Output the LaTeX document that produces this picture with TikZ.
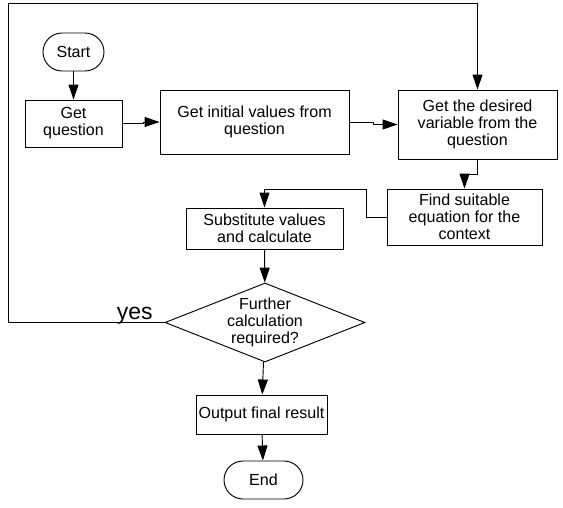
\documentclass[tikz,border=0pt]{standalone}
\usepackage{fontspec}
\setmainfont{Liberation Sans}
\usetikzlibrary{shapes.geometric, arrows.meta, positioning}
\tikzstyle{startstop} = [rectangle, rounded corners=0.57cm, minimum height=1.14cm, inner sep=0pt, text centered, draw=black, line width=0.8pt]
\tikzstyle{process} = [rectangle, inner sep=0pt, align=center, draw=black, line width=0.8pt]
\tikzstyle{decision} = [diamond, aspect=2.53, inner sep=0pt, minimum width=6cm, minimum height=2.37cm, align=center, draw=black, line width=0.8pt]
\tikzstyle{arrow} = [line width=0.8pt, -{Triangle[length=0.45cm,width=0.3cm]}]

\begin{document}
\begin{tikzpicture}[font=\fontsize{13.7}{14.5}\selectfont]
\useasboundingbox (-2.205,1.56) rectangle (14.685,-13.65);
\node (start) [startstop, minimum width=1.83cm] {Start};
\node (getq) [process, node distance=2.145cm, below of=start, minimum width=2.91cm, minimum height=1.41cm] {Get\\question};
\node (init) [process, node distance=5.43cm, right of=getq, yshift=0.045cm, minimum width=5.67cm, minimum height=1.92cm] {Get initial values from\\question};
\node (desired) [process, node distance=6.69cm, right of=init, yshift=-0.075cm, minimum width=4.77cm, minimum height=2.07cm] {Get the desired\\variable from the\\question};
\node (suitable) [process, node distance=2.775cm, below of=desired, xshift=-0.39cm, minimum width=4.65cm, minimum height=1.68cm] {Find suitable\\equation for the\\context};
\node (subst) [process, node distance=6cm, left of=suitable, yshift=-0.345cm, minimum width=4.71cm, minimum height=1.23cm] {Substitute values\\and calculate};
\node (further) [decision, node distance=2.82cm, below of=subst, xshift=0.015cm] {Further\\calculation\\required?};
\node (output) [process, node distance=2.76cm, below of=further, xshift=-0.105cm, minimum width=3.93cm, minimum height=1.17cm] {Output final result};
\node (end) [startstop, node distance=1.965cm, below of=output, xshift=0.06cm, minimum width=2.37cm] {End};
\node (l1) [coordinate, node distance=7.71cm, left of=further] {};
\node (l2) [coordinate, node distance=3.645cm, above of=desired] {};
\node (l3) [coordinate, node distance=1.185cm, above of=subst] {};
\draw [arrow] (start)--(getq);
\draw [arrow] (getq.east)--++(0.63,0) |- (init.west);
\draw [arrow] (init.east)--++(0.72,0) |- (desired.west);
\draw [arrow] (desired.south)--++(0,-0.45) -| (suitable.north);
\draw [arrow] (suitable.west)--++(-0.6,0) |- (l3)--(subst.north);
\draw [arrow] (subst)--(further);
\draw [arrow] (further)--(output);
\draw [arrow] (output)--(end);
\draw [arrow] (further.west)--node[pos=0.19, anchor=base, yshift=0.09cm, inner sep=0pt, font=\fontsize{19.6}{20}\selectfont] {yes} (l1) |- (l2)--(desired.north);
\end{tikzpicture}
\end{document}
